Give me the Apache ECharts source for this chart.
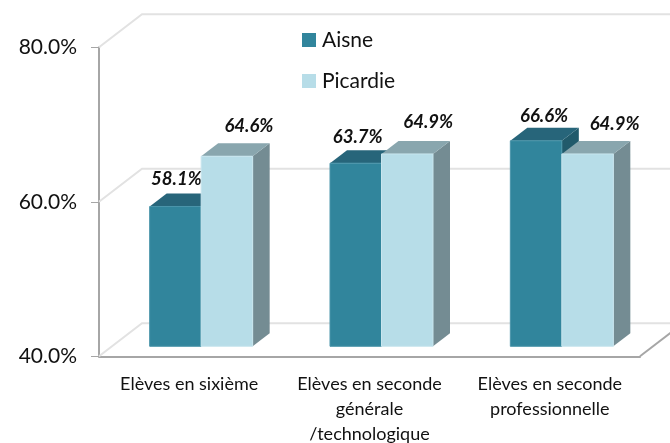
<!DOCTYPE html>
<html>
<head>
<meta charset="utf-8">
<style>
  html, body { margin: 0; padding: 0; background: #fff; }
  #main { width: 670px; height: 443px; }
</style>
<script src="https://cdn.jsdelivr.net/npm/echarts@6/dist/echarts.min.js"></script>
</head>
<body>
<div id="main"></div>
<script>
var categories = ['Elèves en sixième', 'Elèves en seconde\ngénérale\n/technologique', 'Elèves en seconde\nprofessionnelle']
var aisne = [58.1, 63.7, 66.6]
var picardie = [64.6, 64.9, 64.9]
var yTicks = [40, 60, 80]

// pseudo 3D: wall depth, bar depth, and how far bars sit in front of the back wall
var WALL_DX = 43, WALL_DY = -33
var BAR_DX = 17, BAR_DY = -13
var FLOOR_DX = 12, FLOOR_DY = -10
var BAR_W = 51.5

var FONT = 'Lato'

// data label nudges relative to the front face centre, one per category
var aisneShift = [[1, -27], [2, -26], [8, -25]]
var picardieShift = [[22, -30], [21, -32], [27, -30]]

function poly(points, fill) {
  return { type: 'polygon', shape: { points: points }, style: { fill: fill } }
}

function barItem(colors, side, shifts) {
  return function (params, api) {
    var p = api.coord([api.value(0), api.value(1)])
    var x0 = side < 0 ? p[0] + FLOOR_DX - BAR_W : p[0] + FLOOR_DX
    var x1 = x0 + BAR_W
    var top = p[1] + FLOOR_DY
    var bottom = api.coord([api.value(0), yTicks[0]])[1] + FLOOR_DY
    var s = shifts[params.dataIndex]
    return {
      type: 'group',
      children: [
        poly([[x1, top], [x1 + BAR_DX, top + BAR_DY], [x1 + BAR_DX, bottom + BAR_DY], [x1, bottom]], colors.side),
        poly([[x0, top], [x0 + BAR_DX, top + BAR_DY], [x1 + BAR_DX, top + BAR_DY], [x1, top]], colors.top),
        {
          type: 'rect',
          shape: { x: x0, y: top, width: BAR_W, height: bottom - top },
          style: { fill: colors.front, stroke: colors.edge, lineWidth: 1 }
        },
        {
          type: 'text',
          style: {
            x: (x0 + x1) / 2 + s[0],
            y: top + s[1],
            text: api.value(1).toFixed(1) + '%',
            font: 'italic bold 18.5px ' + FONT,
            fill: '#111',
            align: 'center',
            verticalAlign: 'middle'
          }
        }
      ]
    }
  }
}

function wallItem(params, api) {
  var box = params.coordSys
  var y = api.coord([0, api.value(1)])[1]
  return {
    type: 'polyline',
    shape: {
      points: [[box.x, y], [box.x + WALL_DX, y + WALL_DY], [box.x + box.width + WALL_DX, y + WALL_DY]]
    },
    style: { stroke: '#e2e2e2', lineWidth: 2, fill: null },
    silent: true
  }
}

function floorEdgeItem(params, api) {
  var box = params.coordSys
  var y = api.coord([0, api.value(1)])[1]
  var x = box.x + box.width
  return {
    type: 'line',
    shape: { x1: x, y1: y, x2: x + WALL_DX, y2: y + WALL_DY },
    style: { stroke: '#a6a6a6', lineWidth: 2 },
    silent: true
  }
}

var chart = echarts.init(document.getElementById('main'), null, { renderer: 'canvas' })

var option = {
  animation: false,
  backgroundColor: '#fff',
  grid: { left: 99, right: 30, top: 47.3, bottom: 86.7, outerBoundsMode: 'none' },
  legend: {
    data: [
      { name: 'Aisne', icon: 'rect' },
      { name: 'Picardie', icon: 'rect' }
    ],
    orient: 'vertical',
    left: 297,
    top: 23,
    itemWidth: 14,
    itemHeight: 14,
    itemGap: 17,
    textStyle: { fontFamily: FONT, fontSize: 21, color: '#111', lineHeight: 24, padding: [0, 0, 0, 1] }
  },
  xAxis: {
    type: 'category',
    data: categories,
    axisLine: { lineStyle: { color: '#a6a6a6', width: 2 } },
    axisTick: { length: 8, lineStyle: { color: '#a6a6a6', width: 1 } },
    axisLabel: { fontFamily: FONT, fontSize: 18, color: '#111', lineHeight: 25, margin: 15, interval: 0 },
    splitLine: { show: false }
  },
  yAxis: {
    type: 'value',
    min: yTicks[0],
    max: yTicks[yTicks.length - 1],
    interval: yTicks[1] - yTicks[0],
    axisLine: { show: true, lineStyle: { color: '#a6a6a6', width: 2 } },
    axisTick: { show: true, length: 8, lineStyle: { color: '#a6a6a6', width: 1 } },
    axisLabel: {
      fontFamily: FONT,
      fontSize: 21,
      color: '#111',
      margin: 22,
      formatter: function (v) { return v.toFixed(1) + '%' }
    },
    splitLine: { show: false }
  },
  series: [
    {
      type: 'custom',
      name: 'wall',
      renderItem: wallItem,
      clip: false,
      z: 1,
      data: yTicks.map(function (v) { return [0, v] })
    },
    {
      type: 'custom',
      name: 'floorEdge',
      renderItem: floorEdgeItem,
      clip: false,
      z: 1,
      data: [[0, yTicks[0]]]
    },
    {
      type: 'custom',
      name: 'Aisne',
      itemStyle: { color: '#31859c' },
      renderItem: barItem({ front: '#31859c', top: '#27657a', side: '#215a6b', edge: '#4a95aa' }, -1, aisneShift),
      clip: false,
      z: 2,
      data: aisne.map(function (v, i) { return [i, v] })
    },
    {
      type: 'custom',
      name: 'Picardie',
      itemStyle: { color: '#b7dde8' },
      renderItem: barItem({ front: '#b7dde8', top: '#89a6ae', side: '#748c93', edge: '#c8e5ee' }, 1, picardieShift),
      clip: false,
      z: 3,
      data: picardie.map(function (v, i) { return [i, v] })
    }
  ]
}

chart.setOption(option)
</script>
</body>
</html>
